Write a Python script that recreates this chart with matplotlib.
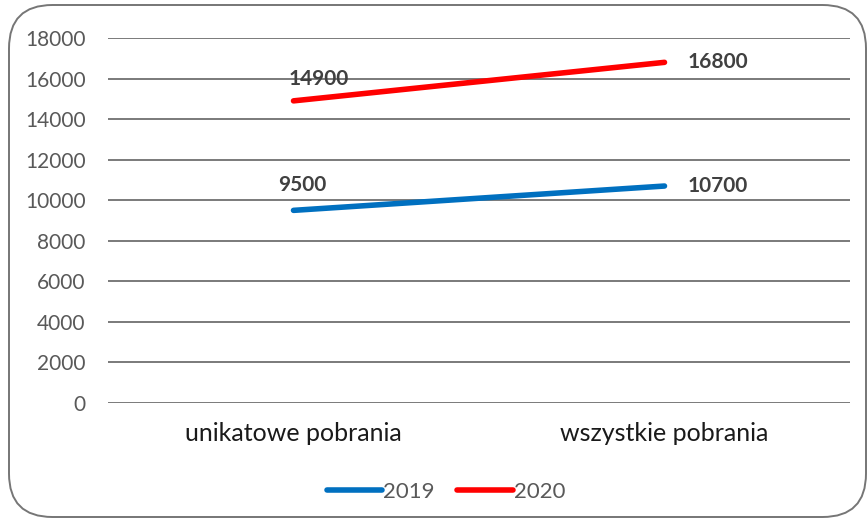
import numpy as np
import matplotlib
matplotlib.use('Agg')
import matplotlib.pyplot as plt
from matplotlib.patches import FancyBboxPatch

categories = ['unikatowe pobrania', 'wszystkie pobrania']
series_names = ['2019', '2020']
values_2019 = [9500, 10700]
values_2020 = [14900, 16800]
yticks = [0, 2000, 4000, 6000, 8000, 10000, 12000, 14000, 16000, 18000]

plt.rcParams['font.family'] = ['Lato', 'DejaVu Sans']

W, H = 868, 525
fig = plt.figure(figsize=(W / 100, H / 100), dpi=100)

# rounded outer frame
frame = FancyBboxPatch((9 / W, 8 / H), 857 / W, 512 / H,
                       boxstyle='round,pad=0,rounding_size=0.05',
                       transform=fig.transFigure, fill=False,
                       edgecolor='#767676', lw=1.4, mutation_aspect=W / H)
fig.patches.append(frame)

ax = fig.add_axes([108 / W, 1 - 403 / H, 742 / W, 365 / H])
x = np.arange(len(categories))
ax.set_xlim(-0.5, len(categories) - 0.5)
ax.set_ylim(0, 18000)

for v in yticks:
    ax.axhline(v, color='#7a7a7a', lw=1.4, zorder=1)

colors = ['#0070C0', '#FF0000']
for name, vals, c in zip(series_names, [values_2019, values_2020], colors):
    ax.plot(x, vals, color=c, lw=4.0, solid_capstyle='round', label=name, zorder=3)

# data labels
offsets_left = {'2019': (9, 25), '2020': (25, 22)}
for name, vals in zip(series_names, [values_2019, values_2020]):
    dx, dy = offsets_left[name]
    ax.annotate(str(vals[0]), (x[0], vals[0]), xytext=(dx / 1.389, dy / 1.389),
                textcoords='offset points', ha='center', va='center',
                fontsize=15, fontweight='bold', color='#404040')
    ax.annotate(str(vals[1]), (x[1], vals[1]), xytext=(53 / 1.389, 0),
                textcoords='offset points', ha='center', va='center',
                fontsize=15, fontweight='bold', color='#404040')

for s in ax.spines.values():
    s.set_visible(False)
ax.set_yticks(yticks)
ax.set_yticklabels([str(v) for v in yticks], fontsize=15, color='#595959')
ax.set_xticks(x)
ax.set_xticklabels(categories, fontsize=18, color='#1a1a1a')
ax.tick_params(axis='y', length=0, pad=16)
ax.tick_params(axis='x', length=0, pad=14)

leg = fig.legend(loc='center', bbox_to_anchor=(446 / W, 1 - 492 / H), ncol=2,
                 frameon=False, fontsize=16, handlelength=2.5, handletextpad=0.05,
                 columnspacing=1.0)
for t in leg.get_texts():
    t.set_color('#595959')

fig.savefig('out.png', dpi=100)
